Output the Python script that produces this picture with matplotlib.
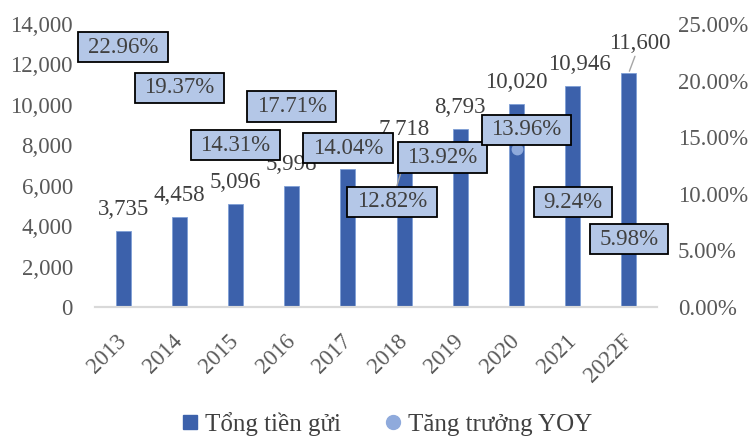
import matplotlib
matplotlib.use("Agg")
import matplotlib.pyplot as plt
from matplotlib.path import Path
from matplotlib.lines import Line2D
import numpy as np

years = ["2013", "2014", "2015", "2016", "2017", "2018", "2019", "2020", "2021", "2022F"]
deposits = [3735, 4458, 5096, 5998, 6840, 7718, 8793, 10020, 10946, 11600]
yoy = [22.96, 19.37, 14.31, 17.71, 14.04, 12.82, 13.92, 13.96, 9.24, 5.98]
deposit_labels = ["3,735", "4,458", "5,096", "5,998", "6,840", "7,718", "8,793", "10,020", "10,946", "11,600"]
yoy_labels = ["22.96%", "19.37%", "14.31%", "17.71%", "14.04%", "12.82%", "13.92%", "13.96%", "9.24%", "5.98%"]
left_ticks = [0, 2000, 4000, 6000, 8000, 10000, 12000, 14000]
right_ticks = [0, 5, 10, 15, 20, 25]

FONT = ["Liberation Serif", "DejaVu Serif"]
plt.rcParams["font.family"] = FONT
TXT = "#404040"
TICK = "#595959"
BAR = "#3c61ab"
DOT = "#8faadc"
BOX = "#b4c7e7"
FS = 16.5


def label_box(x0, y0, width, height, mutation_size):
    px = 0.42 * mutation_size
    py = 0.2 * mutation_size
    x0, y0 = x0 - px, y0 - py
    x1, y1 = x0 + width + 2 * px, y0 + height + 2 * py
    return Path([(x0, y0), (x1, y0), (x1, y1), (x0, y1), (x0, y0)], closed=True)


fig = plt.figure(figsize=(7.51, 4.40), dpi=100)
ax = fig.add_axes([95/751, 1-307/440, (657-95)/751, (307-24)/440])
ax2 = ax.twinx()

x = np.arange(len(years))
ax.bar(x, deposits, width=0.27, color=BAR, edgecolor="#7f9fd6", linewidth=0.6, zorder=2)
ax.set_xlim(-0.5, len(years) - 0.5)
ax.set_ylim(0, 14000)
ax.set_yticks(left_ticks)
ax.set_yticklabels([f"{v:,}" for v in left_ticks])
ax.set_xticks(x)
ax.set_xticklabels(years, rotation=45, ha="right", va="center", rotation_mode="anchor")

ax2.set_ylim(0, 25)
ax2.set_yticks(right_ticks)
ax2.set_yticklabels([f"{v:.2f}%" for v in right_ticks])

for a in (ax, ax2):
    for s in ("top", "left", "right"):
        a.spines[s].set_visible(False)
    a.spines["bottom"].set_color("#d9d9d9")
    a.spines["bottom"].set_linewidth(1.5)
    a.tick_params(length=0, labelsize=FS, labelcolor=TICK)
ax.tick_params(axis="y", pad=16)
ax2.tick_params(axis="y", pad=15)
ax.tick_params(axis="x", pad=22)

# bar labels (offsets in pixels)
bar_off = [(0, 11)] * 8 + [(7, 11), (11, 19)]
for i, (v, lab) in enumerate(zip(deposits, deposit_labels)):
    dx, dy = bar_off[i]
    kw = {}
    if i == 9:
        kw["arrowprops"] = dict(arrowstyle="-", color="#a6a6a6", lw=1.0, shrinkA=0, shrinkB=1)
    ax.annotate(lab, (x[i], v), xytext=(dx, dy), textcoords="offset pixels",
                ha="center", va="bottom", fontsize=FS, color=TXT, **kw)

# YOY points
ax2.plot(x, yoy, linestyle="none", marker="o", markersize=7.5, color=DOT, zorder=3)

lab_off = [(0, 0), (0, 0), (0, 0), (0, 0), (0, 0), (-12, -40), (-18, -8), (10, 19), (0, 0), (0, 0)]
for i, (v, lab) in enumerate(zip(yoy, yoy_labels)):
    dx, dy = lab_off[i]
    kw = {}
    if i == 5:
        kw["arrowprops"] = dict(arrowstyle="-", color="#a6a6a6", lw=1.0, shrinkA=0, shrinkB=4)
    ax2.annotate(lab, (x[i], v), xytext=(dx, dy), textcoords="offset pixels",
                 ha="center", va="center", fontsize=FS, color=TXT, zorder=5,
                 bbox=dict(boxstyle=label_box, facecolor=BOX, edgecolor="black", linewidth=1.3),
                 **kw)

# legend
handles = [Line2D([], [], linestyle="none", marker="s", markersize=10, color=BAR),
           Line2D([], [], linestyle="none", marker="o", markersize=10, color=DOT)]
fig.legend(handles, ["Tổng tiền gửi", "Tăng trưởng YOY"], loc="center",
           bbox_to_anchor=(385/751, 1-424/440), ncol=2, frameon=False,
           fontsize=18, labelcolor=TXT, handletextpad=0.1, columnspacing=1.6, handlelength=1.0)

fig.savefig("out.png", dpi=100)
